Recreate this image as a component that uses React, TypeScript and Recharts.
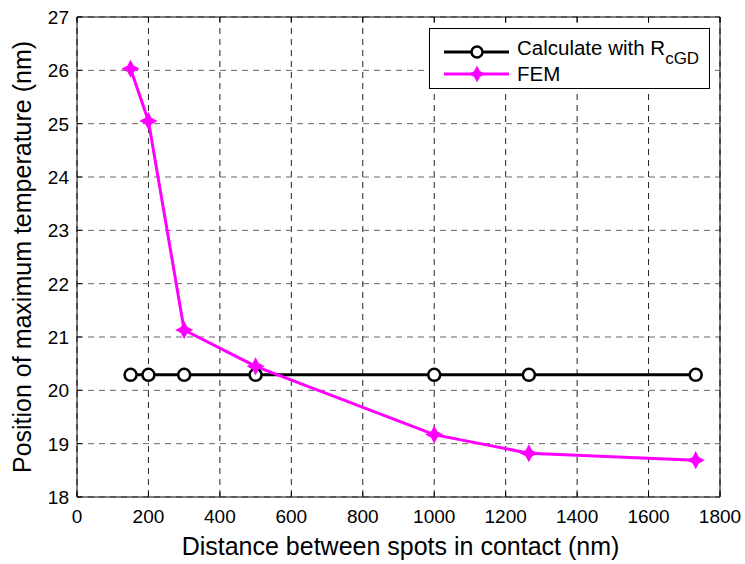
import React from 'react';
import { LineChart, Line, XAxis, YAxis, CartesianGrid, Legend, Label } from 'recharts';

const distances = [150, 200, 300, 500, 1000, 1265, 1732];
const calcValues = [20.29, 20.29, 20.29, 20.29, 20.29, 20.29, 20.29];
const femValues = [26.03, 25.05, 21.13, 20.45, 19.17, 18.82, 18.69];
const xTicks = [0, 200, 400, 600, 800, 1000, 1200, 1400, 1600, 1800];
const yTicks = [18, 19, 20, 21, 22, 23, 24, 25, 26, 27];

const data = distances.map((d, i) => ({ d, calc: calcValues[i], fem: femValues[i] }));

const FONT = '"Liberation Sans", Arial, Helvetica, sans-serif';

const XTickBottom = (props: any) => {
  const { x, y, payload } = props;
  return (
    <g>
      <line x1={x} x2={x} y1={y} y2={y - 5} stroke="#000" strokeWidth={1} />
      <text x={x} y={y + 26} textAnchor="middle" fontFamily={FONT} fontSize={19} fill="#000">
        {payload.value}
      </text>
    </g>
  );
};

const XTickTop = (props: any) => {
  const { x, y } = props;
  return <line x1={x} x2={x} y1={y} y2={y + 5} stroke="#000" strokeWidth={1} />;
};

const YTickLeft = (props: any) => {
  const { x, y, payload } = props;
  return (
    <g>
      <line x1={x} x2={x + 5} y1={y} y2={y} stroke="#000" strokeWidth={1} />
      <text x={x - 8} y={y + 7} textAnchor="end" fontFamily={FONT} fontSize={19} fill="#000">
        {payload.value}
      </text>
    </g>
  );
};

const YTickRight = (props: any) => {
  const { x, y } = props;
  return <line x1={x} x2={x - 5} y1={y} y2={y} stroke="#000" strokeWidth={1} />;
};

const CircleDot = (props: any) => {
  const { cx, cy } = props;
  if (cx == null || cy == null) return null;
  return <circle cx={cx} cy={cy} r={6} fill="#fff" stroke="#000" strokeWidth={2.5} />;
};

const starPath = (cx: number, cy: number) => {
  const o = 7.5;
  const i = 2.6;
  return `M${cx - o},${cy} L${cx - i},${cy - i} L${cx},${cy - o} L${cx + i},${cy - i} L${cx + o},${cy} L${cx + i},${cy + i} L${cx},${cy + o} L${cx - i},${cy + i} Z`;
};

const StarDot = (props: any) => {
  const { cx, cy } = props;
  if (cx == null || cy == null) return null;
  return <path d={starPath(cx, cy)} fill="#ff00ff" stroke="#ff00ff" strokeWidth={1.5} />;
};

const YTitle = (props: any) => {
  const vb = props.viewBox || {};
  const cy = vb.y + vb.height / 2;
  return (
    <text
      x={22}
      y={cy}
      transform={`rotate(-90, 22, ${cy})`}
      textAnchor="middle"
      dominantBaseline="central"
      fontFamily={FONT}
      fontSize={25}
      fill="#000"
    >
      Position of maximum temperature (nm)
    </text>
  );
};

const XTitle = (props: any) => {
  const vb = props.viewBox || {};
  const cx = vb.x + vb.width / 2;
  return (
    <text x={cx + 2} y={555} textAnchor="middle" fontFamily={FONT} fontSize={25} fill="#000">
      Distance between spots in contact (nm)
    </text>
  );
};

const LegendContent = () => {
  return (
    <div
      style={{
        width: 281,
        height: 61,
        border: '1px solid #000',
        background: '#fff',
        position: 'relative',
        boxSizing: 'border-box',
      }}
    >
      <svg width={281} height={61} style={{ position: 'absolute', left: 0, top: 0 }}>
        <line x1={14} x2={79} y1={23} y2={23} stroke="#000" strokeWidth={3} />
        <circle cx={47} cy={23} r={5.5} fill="#fff" stroke="#000" strokeWidth={2.5} />
        <text x={87} y={26} fontFamily={FONT} fontSize={20.5} fill="#000">
          Calculate with R
          <tspan fontSize={17} dy={9}>cGD</tspan>
        </text>
        <line x1={14} x2={79} y1={45} y2={45} stroke="#ff00ff" strokeWidth={3} />
        <path d={starPath(47, 45)} fill="#ff00ff" stroke="#ff00ff" strokeWidth={1} />
        <text x={87} y={52} fontFamily={FONT} fontSize={20.5} fill="#000">
          FEM
        </text>
      </svg>
    </div>
  );
};

export default function App() {
  return (
    <div style={{ position: 'absolute', left: 0, top: 0, width: 745, height: 564, background: '#fff' }}>
      <LineChart width={745} height={564} data={data} margin={{ top: 0, right: 0, bottom: 0, left: 0 }}>
        <CartesianGrid horizontal={false} stroke="#222" strokeDasharray="6 5" strokeWidth={1} />
        <CartesianGrid vertical={false} stroke="#666" strokeDasharray="6 5" strokeWidth={1} />
        <XAxis
          dataKey="d"
          type="number"
          domain={[0, 1800]}
          ticks={xTicks}
          interval={0}
          height={67}
          tickSize={0}
          tickMargin={0}
          tickLine={false}
          axisLine={{ stroke: '#000', strokeWidth: 1 }}
          tick={<XTickBottom />}
        >
          <Label content={<XTitle />} />
        </XAxis>
        <XAxis
          xAxisId="top"
          orientation="top"
          dataKey="d"
          type="number"
          domain={[0, 1800]}
          ticks={xTicks}
          interval={0}
          height={17}
          tickSize={0}
          tickMargin={0}
          tickLine={false}
          axisLine={{ stroke: '#000', strokeWidth: 1 }}
          tick={<XTickTop />}
        />
        <YAxis
          type="number"
          domain={[18, 27]}
          ticks={yTicks}
          interval={0}
          width={77}
          tickSize={0}
          tickMargin={0}
          tickLine={false}
          axisLine={{ stroke: '#000', strokeWidth: 1 }}
          tick={<YTickLeft />}
        >
          <Label content={<YTitle />} />
        </YAxis>
        <YAxis
          yAxisId="right"
          orientation="right"
          type="number"
          domain={[18, 27]}
          ticks={yTicks}
          interval={0}
          width={25}
          tickSize={0}
          tickMargin={0}
          tickLine={false}
          axisLine={{ stroke: '#000', strokeWidth: 1 }}
          tick={<YTickRight />}
        />
        <Line
          type="linear"
          dataKey="calc"
          name="Calculate with RcGD"
          stroke="#000"
          strokeWidth={3}
          dot={<CircleDot />}
          activeDot={false}
          isAnimationActive={false}
        />
        <Line
          type="linear"
          dataKey="fem"
          name="FEM"
          stroke="#ff00ff"
          strokeWidth={3}
          dot={<StarDot />}
          activeDot={false}
          isAnimationActive={false}
        />
        <Legend
          layout="vertical"
          align="center"
          verticalAlign="middle"
          content={<LegendContent />}
          wrapperStyle={{ position: 'absolute', left: 429, top: 28, width: 281, height: 61 }}
        />
      </LineChart>
    </div>
  );
}
